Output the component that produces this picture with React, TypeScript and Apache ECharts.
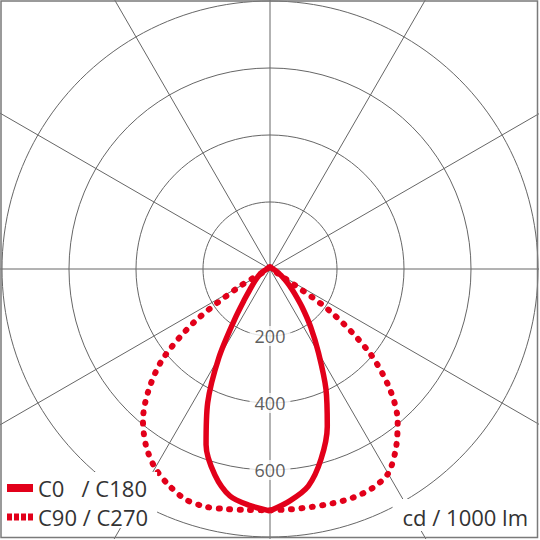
import { useEffect, useRef } from "react";
import * as echarts from "echarts";

// angles from nadir (deg), one half-plane each
const angles = [
  0, 5, 10, 15, 20, 25, 30, 35, 40, 45, 50, 55, 60, 65, 70, 75, 80, 85, 90,
  95, 100, 105, 110, 115, 120, 125, 130, 135, 140, 145, 150, 155, 160, 165, 170, 175, 180,
];

// cd / 1000 lm
const c0 = [
  722, 694, 658, 588, 500, 395, 290, 212, 150, 104, 74, 52, 38, 28, 21, 16, 13, 11, 9,
  8, 7, 6, 6, 6, 6, 6, 6, 6, 6, 6, 6, 6, 6, 6, 6, 6, 6,
];
const c180 = [
  722, 708, 688, 636, 558, 440, 305, 185, 118, 82, 62, 48, 38, 29, 22, 17, 13, 11, 9,
  8, 7, 6, 6, 6, 6, 6, 6, 6, 6, 6, 6, 6, 6, 6, 6, 6, 6,
];
const c90 = [
  720, 720, 721, 724, 726, 722, 705, 655, 593, 505, 386, 216, 30, 9, 6, 5, 5, 5, 5,
  5, 5, 5, 5, 5, 5, 5, 5, 5, 5, 5, 5, 5, 5, 5, 5, 5, 5,
];
const c270 = [
  720, 722, 728, 735, 733, 713, 686, 645, 590, 513, 418, 276, 108, 18, 7, 5, 5, 5, 5,
  5, 5, 5, 5, 5, 5, 5, 5, 5, 5, 5, 5, 5, 5, 5, 5, 5, 5,
];

const radiusTicks = [200, 400, 600];
const seriesNames = ["C0   / C180", "C90 / C270"];
const unitLabel = "cd / 1000 lm";

const RED = "#e2001a";
const GRID = "#666666";
const TEXT = "#333333";
const FONT = "Open Sans";

// right half at +angle, left half mirrored to 360 - angle
function loop(right: number[], left: number[]) {
  const pts: number[][] = [];
  angles.forEach((a, i) => pts.push([right[i], a]));
  for (let i = angles.length - 1; i >= 0; i--) pts.push([left[i], 360 - angles[i]]);
  return pts;
}

export default function App() {
  const chartRef = useRef<HTMLDivElement>(null);

  useEffect(() => {
    if (!chartRef.current) return;
    const chart = echarts.init(chartRef.current, null, { renderer: "svg" });

    const option: echarts.EChartsOption = {
      animation: false,
      backgroundColor: "#fff",
      polar: { center: [270, 269], radius: 402 },
      angleAxis: {
        type: "value",
        min: 0,
        max: 360,
        interval: 30,
        startAngle: 270,
        clockwise: false,
        axisLine: { show: false },
        axisTick: { show: false },
        axisLabel: { show: false },
        splitLine: { show: true, lineStyle: { color: GRID, width: 1 } },
      },
      radiusAxis: {
        type: "value",
        min: 0,
        max: 1200,
        interval: 200,
        axisLine: { show: false },
        axisTick: { show: false },
        axisLabel: { show: false },
        splitLine: {
          show: true,
          lineStyle: {
            // only 0..800 circles drawn; outer ticks just stretch the spokes
            color: [GRID, GRID, GRID, GRID, GRID, "rgba(0,0,0,0)", "rgba(0,0,0,0)"],
            width: 1,
          },
        },
      },
      legend: {
        orient: "vertical",
        left: 0,
        top: 472,
        padding: [5, 9, 0, 7],
        itemGap: 7,
        itemWidth: 26,
        itemHeight: 8,
        backgroundColor: "#fff",
        selectedMode: false,
        itemStyle: { borderWidth: 0 },
        textStyle: { fontSize: 22, color: TEXT, fontFamily: FONT },
        data: [
          { name: seriesNames[0], icon: "rect" },
          {
            name: seriesNames[1],
            icon: "path://M0,0h5v7h-5zM7,0h5v7h-5zM14,0h5v7h-5zM21,0h5v7h-5z",
          },
        ],
      },
      title: {
        text: unitLabel,
        right: 3,
        top: 499,
        padding: [7, 8, 3, 10],
        backgroundColor: "#fff",
        textStyle: { fontSize: 22, fontWeight: "normal", color: TEXT, fontFamily: FONT },
      },
      graphic: [
        {
          type: "rect",
          shape: { x: 1, y: 1, width: 536.5, height: 536.5 },
          style: { fill: "none", stroke: "#7a7a7a", lineWidth: 1.5 },
          z: 100,
          silent: true,
        },
      ],
      series: [
        {
          name: seriesNames[0],
          type: "line",
          coordinateSystem: "polar",
          data: loop(c0, c180),
          smooth: 0.3,
          symbol: "none",
          showSymbol: false,
          itemStyle: { color: RED },
          lineStyle: { color: RED, width: 5.5, join: "round" },
          z: 3,
        },
        {
          name: seriesNames[1],
          type: "line",
          coordinateSystem: "polar",
          data: loop(c90, c270),
          smooth: 0.3,
          symbol: "none",
          showSymbol: false,
          itemStyle: { color: RED },
          lineStyle: { color: RED, width: 6, type: [1, 9.5], cap: "round" },
          z: 3,
        },
        {
          type: "scatter",
          coordinateSystem: "polar",
          data: radiusTicks.map((v) => [v, 0]),
          symbolSize: 1,
          silent: true,
          itemStyle: { color: "rgba(0,0,0,0)" },
          label: {
            show: true,
            position: "inside",
            formatter: (p: any) => String(p.value[0]),
            fontSize: 18,
            color: TEXT,
            fontFamily: FONT,
            backgroundColor: "#fff",
            padding: [1, 5],
          },
          z: 4,
        },
      ],
    };

    chart.setOption(option);
    return () => {
      chart.dispose();
    };
  }, []);

  return (
    <div
      ref={chartRef}
      style={{ position: "fixed", left: 0, top: 0, width: 539, height: 539, background: "#fff" }}
    />
  );
}
